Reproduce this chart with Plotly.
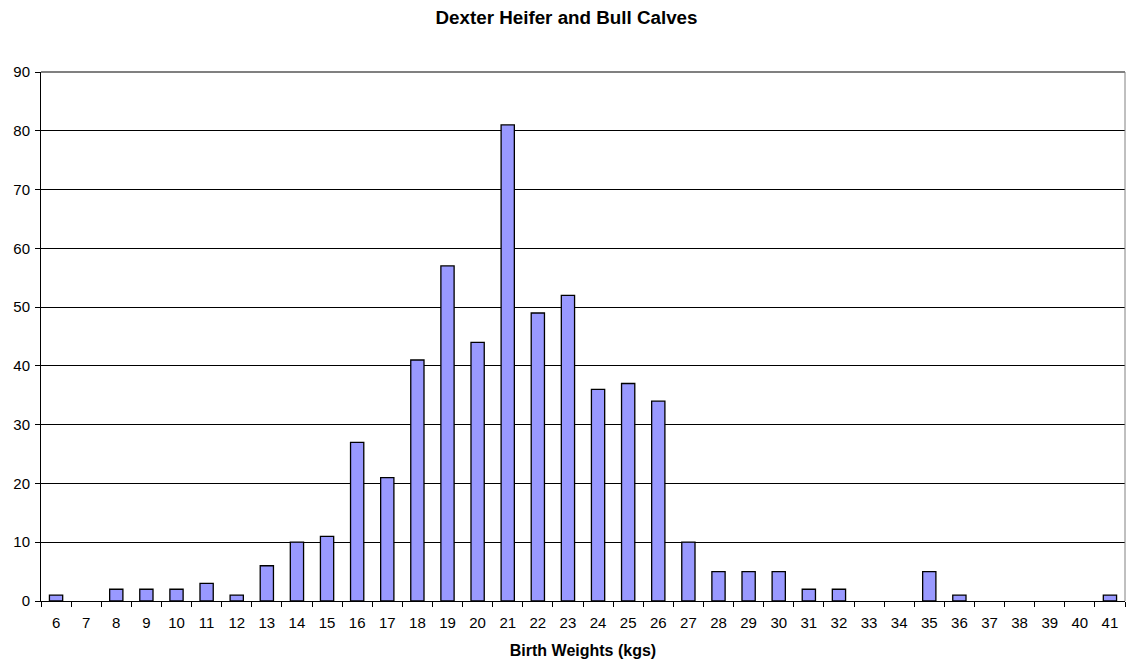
import plotly.graph_objects as go

weights = [str(w) for w in range(6, 42)]
counts = [1, 0, 2, 2, 2, 3, 1, 6, 10, 11, 27, 21, 41, 57, 44, 81, 49, 52, 36, 37, 34,
          10, 5, 5, 5, 2, 2, 0, 0, 5, 1, 0, 0, 0, 0, 1]
y_ticks = list(range(0, 91, 10))

fig = go.Figure(go.Bar(
    x=weights, y=counts,
    marker=dict(color="#9999FF",
                line=dict(color="black", width=[1.3 if c > 0 else 0 for c in counts])),
))

font = "Liberation Sans, Arial, sans-serif"
fig.update_layout(
    width=1127, height=666,
    margin=dict(l=41, r=2, t=72, b=65),
    paper_bgcolor="white", plot_bgcolor="white",
    bargap=0.56,
    showlegend=False,
    font=dict(family=font, size=15, color="black"),
    title=dict(text="<b>Dexter Heifer and Bull Calves</b>", x=566.5 / 1127, xanchor="center",
               xref="container", y=1 - 17 / 666, yanchor="middle",
               font=dict(size=18.8, family=font)),
    xaxis=dict(
        type="category", showline=True, linecolor="black", linewidth=1,
        ticks="outside", tickson="boundaries", ticklen=5, tickcolor="black",
        showgrid=False, tickfont=dict(size=15), ticklabelstandoff=8,
        title=dict(text="<b>Birth Weights (kgs)</b>", font=dict(size=16), standoff=14),
    ),
    yaxis=dict(
        range=[0, 90], tickvals=y_ticks, showline=True, linecolor="black", linewidth=1,
        ticks="outside", ticklen=5, tickcolor="black", tickfont=dict(size=15),
        ticklabelstandoff=2,
        showgrid=True, gridcolor="black", gridwidth=1, zeroline=False,
    ),
    shapes=[
        dict(type="line", xref="paper", yref="paper", x0=0, x1=1, y0=1, y1=1,
             line=dict(color="#808080", width=2), layer="above"),
        dict(type="line", xref="paper", yref="paper", x0=1, x1=1, y0=0, y1=1,
             line=dict(color="#808080", width=1), layer="above"),
    ],
)

fig.write_html("out.html", config={"displayModeBar": False},
               post_script="document.body.style.margin='0';")
